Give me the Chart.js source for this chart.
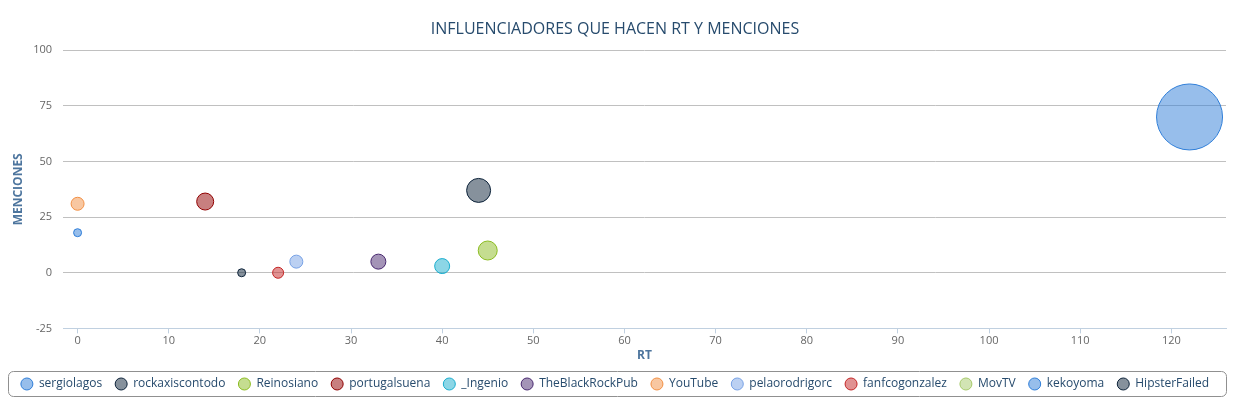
<!DOCTYPE html>
<html>
<head>
<meta charset="utf-8">
<script src="https://cdn.jsdelivr.net/npm/chart.js@4"></script>
<style>
    html, body { margin: 0; padding: 0; background: #fff; }
    #wrap { width: 1243px; height: 411px; }
</style>
</head>
<body>
<div id="wrap"><canvas id="bubbleChart" width="1243" height="411"></canvas></div>
<script>
// data
const usuarios = ['sergiolagos', 'rockaxiscontodo', 'Reinosiano', 'portugalsuena', '_Ingenio', 'TheBlackRockPub',
    'YouTube', 'pelaorodrigorc', 'fanfcogonzalez', 'MovTV', 'kekoyoma', 'HipsterFailed'];
const rtValues = [0, 18, 45, 14, 40, 33, 0, 24, 22, null, 122, 44];
const mencionesValues = [18, 0, 10, 32, 3, 5, 31, 5, 0, null, 70, 37];
const bubbleSize = [4, 4, 9.5, 8.5, 7.5, 7.5, 6.5, 6.5, 5.5, null, 33, 12];
const yTicks = [-25, 0, 25, 50, 75, 100];

(function () {
    const palette = ['#2f7ed8', '#0d233a', '#8bbc21', '#910000', '#1aadce', '#492970',
        '#f28f43', '#77a1e5', '#c42525', '#a6c96a'];
    const fontFamily = '"Open Sans", "DejaVu Sans", sans-serif';

    function withAlpha(hex, a) {
        const n = parseInt(hex.slice(1), 16);
        return 'rgba(' + (n >> 16) + ',' + ((n >> 8) & 255) + ',' + (n & 255) + ',' + a + ')';
    }

    const datasets = usuarios.map(function (name, i) {
        const color = palette[i % palette.length];
        const points = rtValues[i] == null ? [] : [{ x: rtValues[i], y: mencionesValues[i], r: bubbleSize[i] }];
        return {
            label: name,
            data: points,
            backgroundColor: withAlpha(color, 0.5),
            borderColor: color,
            borderWidth: 1
        };
    });

    // rounded frame around the legend, like the original
    const legendFrame = {
        id: 'legendFrame',
        afterDraw: function (chart) {
            const boxes = chart.legend.legendHitBoxes;
            if (!boxes || !boxes.length) return;
            const top = boxes[0].top - 7, h = boxes[0].height + 13;
            const left = 8.5, w = 1226 - 8;
            const ctx = chart.ctx;
            ctx.save();
            ctx.strokeStyle = '#909090';
            ctx.lineWidth = 1;
            ctx.beginPath();
            ctx.roundRect(left, top + 0.5, w, h, 5);
            ctx.stroke();
            ctx.restore();
        }
    };

    const ctx = document.getElementById('bubbleChart').getContext('2d');
    new Chart(ctx, {
        type: 'bubble',
        data: { datasets: datasets },
        plugins: [legendFrame],
        options: {
            responsive: false,
            animation: false,
            layout: { autoPadding: false, padding: { left: 4, right: 17, top: 0, bottom: 11 } },
            plugins: {
                title: {
                    display: true,
                    text: 'INFLUENCIADORES QUE HACEN RT Y MENCIONES',
                    color: '#274b6d',
                    font: { family: fontFamily, size: 16, weight: 'normal' },
                    padding: { top: 20, bottom: 11 }
                },
                legend: {
                    position: 'bottom',
                    labels: {
                        usePointStyle: true,
                        pointStyle: 'circle',
                        pointStyleWidth: 12,
                        boxHeight: 8.5,
                        color: '#274b6d',
                        padding: 13,
                        font: { family: fontFamily, size: 12 }
                    }
                },
                tooltip: { enabled: false }
            },
            scales: {
                x: {
                    type: 'linear',
                    min: -1.6,
                    max: 126,
                    border: { color: '#C0D0E0' },
                    grid: { drawOnChartArea: false, tickLength: 5, color: '#C0D0E0' },
                    ticks: {
                        stepSize: 10,
                        includeBounds: false,
                        padding: 1,
                        color: '#666',
                        font: { family: fontFamily, size: 11 }
                    },
                    title: {
                        display: true,
                        text: 'RT',
                        color: '#4d759e',
                        font: { family: fontFamily, size: 12, weight: 'bold' },
                        padding: { top: 0, bottom: 2 }
                    }
                },
                y: {
                    type: 'linear',
                    min: yTicks[0],
                    max: yTicks[yTicks.length - 1],
                    border: { display: false },
                    grid: { color: '#C0C0C0', drawTicks: false },
                    afterFit: function (scale) { scale.width = 59; },
                    afterBuildTicks: function (scale) {
                        scale.ticks = yTicks.map(function (v) { return { value: v }; });
                    },
                    ticks: {
                        padding: 11,
                        color: '#666',
                        font: { family: fontFamily, size: 11 }
                    },
                    title: {
                        display: true,
                        text: 'MENCIONES',
                        color: '#4d759e',
                        font: { family: fontFamily, size: 12, weight: 'bold' },
                        padding: { top: 7, bottom: 4 }
                    }
                }
            }
        }
    });
})();
</script>
</body>
</html>
